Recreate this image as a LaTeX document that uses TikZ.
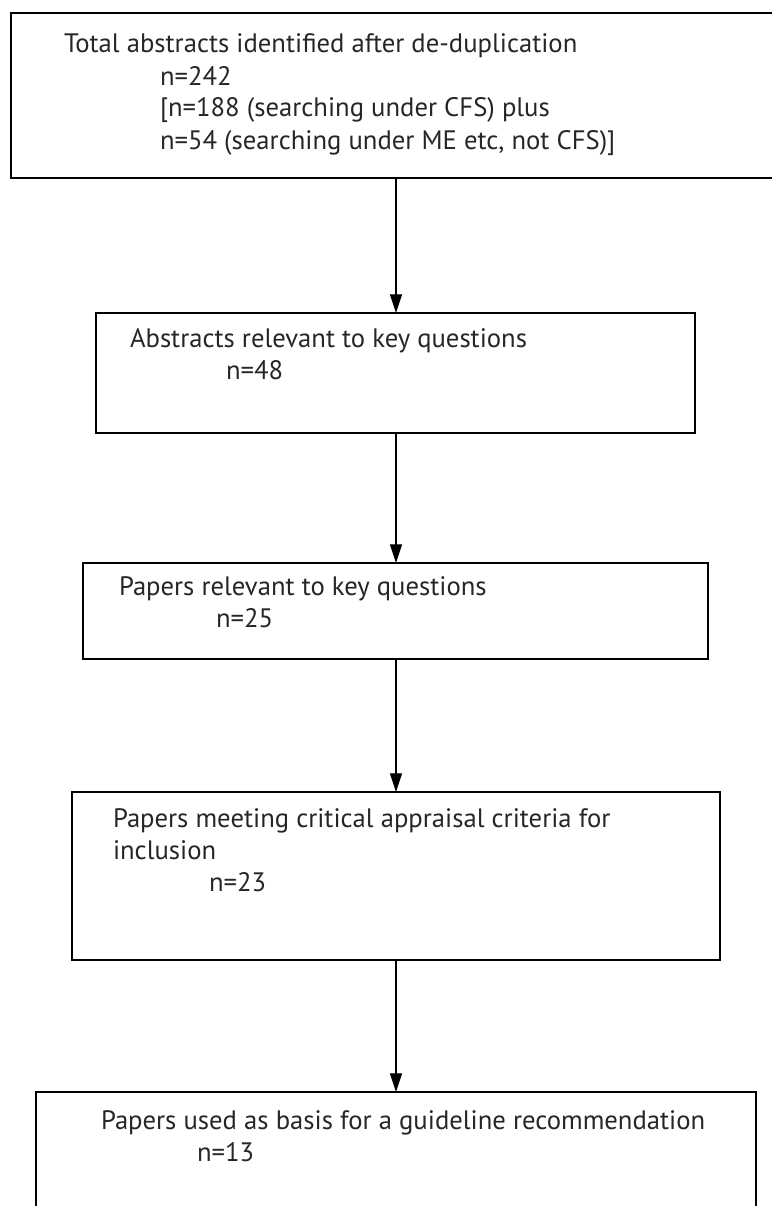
\documentclass[tikz,border=0pt]{standalone}
\usepackage{fontspec}
\setmainfont{PT Sans}
\usetikzlibrary{arrows.meta}
\begin{document}
\begin{tikzpicture}[x=0.75pt,y=-0.75pt,
  box/.style={draw, line width=1.3pt, inner sep=0pt, outer sep=0pt},
  txt/.style={anchor=base west, inner sep=0pt, outer sep=0pt, text=black!85, font=\fontsize{20}{24}\selectfont},
  arr/.style={line width=0.8pt, -{Triangle[length=14pt,width=9pt]}}]
\useasboundingbox (0,0) rectangle (771,1206);
% boxes
\node[box, minimum width=584.25pt, minimum height=123.75pt] (b1) at (400.5,95.5) {};
\node[box, minimum width=449.25pt, minimum height=90pt] (b2) at (395.5,373) {};
\node[box, minimum width=468.75pt, minimum height=72pt] (b3) at (395.5,611) {};
\node[box, minimum width=486pt, minimum height=126pt] (b4) at (396,876) {};
\node[box, minimum width=540pt, minimum height=118.5pt] (b5) at (396,1171) {};
% texts
\node[txt] (t1a) at (64,53) {Total abstracts identified after de-duplication};
\node[txt] (t1b) at (160,85) {n=242};
\node[txt] (t1c) at (160,117) {[n=188 (searching under CFS) plus};
\node[txt] (t1d) at (160,149) {n=54 (searching under ME etc, not CFS)]};
\node[txt] (t2a) at (130,347) {Abstracts relevant to key questions};
\node[txt] (t2b) at (226,379) {n=48};
\node[txt] (t3a) at (119,595) {Papers relevant to key questions};
\node[txt] (t3b) at (216,627) {n=25};
\node[txt] (t4a) at (113,827) {Papers meeting critical appraisal criteria for};
\node[txt] (t4b) at (113,859) {inclusion};
\node[txt] (t4c) at (209,891) {n=23};
\node[txt] (t5a) at (101,1129) {Papers used as basis for a guideline recommendation};
\node[txt] (t5b) at (197,1161) {n=13};
% connectors
\coordinate (ax) at (396,0);
\draw[arr] (b1.south -| ax) -- (b2.north -| ax);
\draw[arr] (b2.south -| ax) -- (b3.north -| ax);
\draw[arr] (b3.south -| ax) -- (b4.north -| ax);
\draw[arr] (b4.south -| ax) -- (b5.north -| ax);
\end{tikzpicture}
\end{document}
